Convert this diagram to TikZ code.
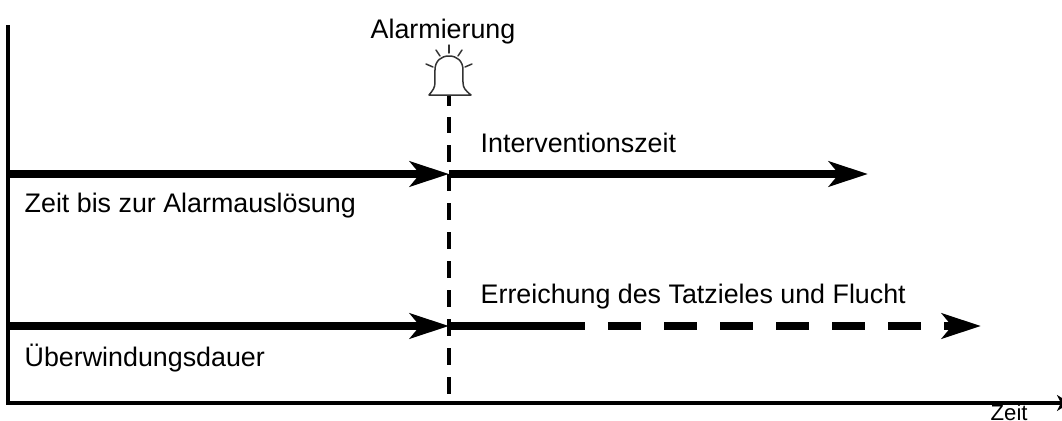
\documentclass[tikz,border=0pt]{standalone}
\usepackage{fontspec}
\setmainfont{Liberation Sans}
\usetikzlibrary{arrows.meta}
\definecolor{bellgray}{rgb}{0.2, 0.2, 0.2}

\begin{document}
\begin{tikzpicture}[x=0.01cm, y=-0.01cm,
		label text/.style={anchor=base west, inner sep=0pt, font=\fontsize{7.63pt}{9pt}\selectfont},
		phase/.style={line width=0.085cm, -{Stealth[length=0.39cm, width=0.25cm, inset=0.1cm]}},
		axis line/.style={line width=0.035cm},
		bell line/.style={bellgray, line width=0.015cm, line cap=round, line join=round}]
		\useasboundingbox (0,0) rectangle (1062,421);
		% points
		\coordinate (top) at (8,25);
		\coordinate (origin) at (8,403);
		\coordinate (end) at (1070,403);
		\coordinate (alarm) at (449,95);
		\coordinate (alarm foot) at (449,400);
		\coordinate (start a) at (8,174);
		\coordinate (mid a) at (449,174);
		\coordinate (end a) at (868,174);
		\coordinate (start b) at (8,326);
		\coordinate (mid b) at (449,326);
		\coordinate (solid b) at (585,326);
		\coordinate (dash b) at (608,326);
		\coordinate (end b) at (981,326);
		% axes
		\draw[axis line, line join=miter, -{Stealth[length=0.13cm, width=0.16cm, inset=0.04cm]}] (top)--(origin)--(end);
		% alarm line
		\draw[line width=0.045cm, dash pattern=on 0.11cm off 0.11cm on 0.16cm off 0.12cm on 0.17cm off 0.12cm on 0.17cm off 0.12cm on 0.17cm off 0.12cm on 0.17cm off 0.12cm on 0.17cm off 0.12cm on 0.17cm off 0.12cm on 0.17cm off 0.12cm on 0.17cm off 0.12cm on 0.17cm off 0.12cm] (alarm)--(alarm foot);
		% phases
		\draw[phase] (start a)--(mid a);
		\draw[phase] (mid a)--(end a);
		\draw[phase] (start b)--(mid b);
		\draw[line width=0.085cm] (mid b)--(solid b);
		\draw[phase, dash pattern=on 0.33cm off 0.23cm] (dash b)--(end b);
		% bell
		\draw[bell line, fill=white] (429,95)--(471,95) .. controls (465,90) and (463,88) .. (463,82)
			--(463,70) .. controls (463,61) and (457,56) .. (449,56)
			.. controls (441,56) and (435,61) .. (435,70)--(435,82) .. controls (435,88) and (433,90) .. (429,95)--cycle;
		\foreach \x/\y/\u/\v in {449/45/449/53, 436/50/440/56, 462/50/458/56, 426/64/433/67, 472/64/465/67}{
			\draw[bell line] (\x,\y)--(\u,\v);
		}
		% labels
		\node[label text] (alarmierung) at (370,38) {Alarmierung};
		\node[label text] (intervention) at (480,152) {Interventionszeit};
		\node[label text] (ausloesung) at (24,212) {Zeit bis zur Alarmauslösung};
		\node[label text] (tatziel) at (480,303) {Erreichung des Tatzieles und Flucht};
		\node[label text] (dauer) at (24,366) {Überwindungsdauer};
		\node[label text, font=\fontsize{6.3pt}{8pt}\selectfont] (zeit) at (990,420.5) {Zeit};
	\end{tikzpicture}
\end{document}
